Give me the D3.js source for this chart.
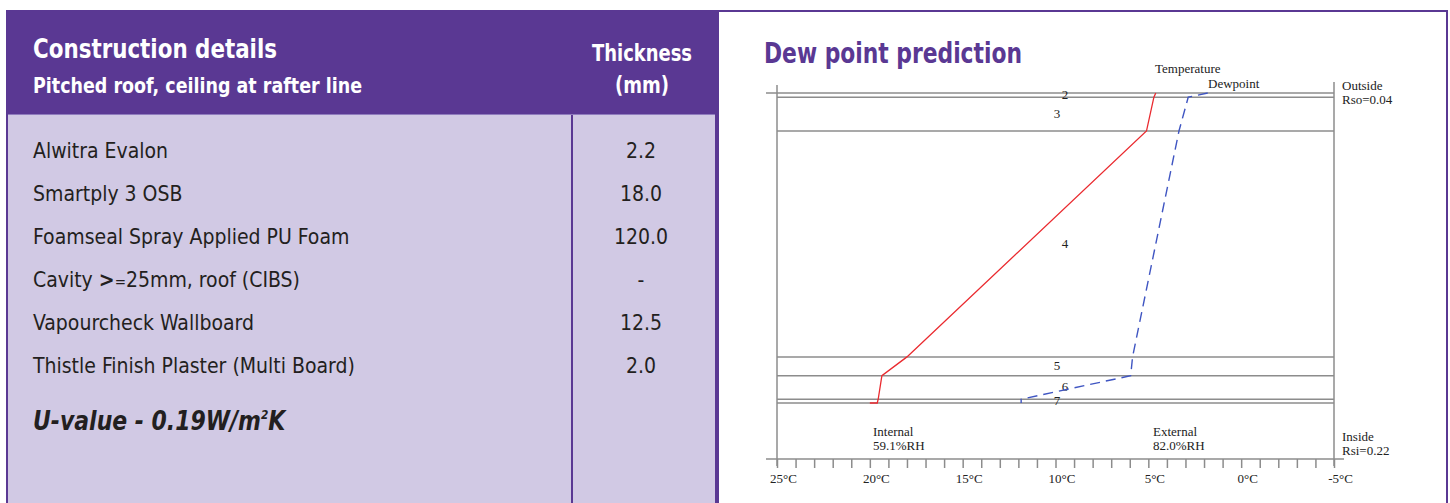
<!DOCTYPE html>
<html>
<head>
<meta charset="utf-8">
<script src="https://cdn.jsdelivr.net/npm/d3@7/dist/d3.min.js"></script>
<style>
body { margin: 0; background: #fff; }
svg text { font-family: "Liberation Sans Narrow", "DejaVu Sans Condensed", sans-serif; }
.plot text { font-family: "Liberation Serif", "Times New Roman", serif; font-size: 13px; fill: #222; }
</style>
</head>
<body>
<div id="chart"></div>
<script>
// Table data
var materials = ["Alwitra Evalon", "Smartply 3 OSB", "Foamseal Spray Applied PU Foam",
    "Cavity >=25mm, roof (CIBS)", "Vapourcheck Wallboard", "Thistle Finish Plaster (Multi Board)"];
var thicknessText = ["2.2", "18.0", "120.0", "-", "12.5", "2.0"];

// Dew point chart data
var layerIds = [2, 3, 4, 5, 6, 7];
var layerDepth = [2.2, 18, 120, 10, 12.5, 2];   // drawn thickness in mm
var tempDepth = [0, 2.2, 20.2, 140.2, 150.2, 162.7, 164.7, 164.7];
var tempValues = [4.6, 4.7, 5.1, 18.0, 19.35, 19.55, 19.6, 20.0];
var dewDepth = [0, 2.2, 20.2, 140.2, 150.2, 162.7, 164.7];
var dewValues = [1.8, 2.85, 3.35, 5.85, 5.95, 11.85, 11.85];
var tickLabels = [25, 20, 15, 10, 5, 0, -5];

var purple = "#5a3893";
var lavender = "#d1c9e4";

var svg = d3.select("#chart")
    .append("svg")
    .attr("width", 1450)
    .attr("height", 503);

// squeeze a heading into the width it has in the print
function fit(sel, w) {
    sel.attr("textLength", w).attr("lengthAdjust", "spacingAndGlyphs");
    return sel;
}

// ---- Left panel: construction table ----
var left = svg.append("g");

left.append("rect")
    .attr("x", 7).attr("y", 11)
    .attr("width", 709).attr("height", 510)
    .attr("fill", lavender)
    .attr("stroke", purple)
    .attr("stroke-width", 2);

left.append("rect")
    .attr("x", 7).attr("y", 11)
    .attr("width", 709).attr("height", 103)
    .attr("fill", purple);

left.append("line")
    .attr("x1", 8).attr("x2", 715)
    .attr("y1", 114.5).attr("y2", 114.5)
    .attr("stroke", "#8f7bbd")
    .attr("stroke-width", 1);

left.append("line")
    .attr("x1", 572).attr("x2", 572)
    .attr("y1", 115).attr("y2", 503)
    .attr("stroke", purple)
    .attr("stroke-width", 2);

fit(left.append("text")
    .attr("x", 33).attr("y", 58)
    .attr("fill", "#fff")
    .style("font-size", "27px")
    .style("font-weight", "bold")
    .text("Construction details"), 244);

fit(left.append("text")
    .attr("x", 33).attr("y", 93)
    .attr("fill", "#fff")
    .style("font-size", "21px")
    .style("font-weight", "bold")
    .text("Pitched roof, ceiling at rafter line"), 329);

fit(left.append("text")
    .attr("x", 642).attr("y", 61)
    .attr("text-anchor", "middle")
    .attr("fill", "#fff")
    .style("font-size", "23px")
    .style("font-weight", "bold")
    .text("Thickness"), 100);

fit(left.append("text")
    .attr("x", 642).attr("y", 93)
    .attr("text-anchor", "middle")
    .attr("fill", "#fff")
    .style("font-size", "23px")
    .style("font-weight", "bold")
    .text("(mm)"), 54);

var rowY = d3.scaleBand()
    .domain(d3.range(materials.length))
    .range([129, 388]);

var rows = left.selectAll(".row")
    .data(materials)
    .enter()
    .append("g")
    .attr("class", "row")
    .attr("transform", (d, i) => `translate(0, ${rowY(i) + rowY.bandwidth() / 2 + 7})`);

rows.append("text")
    .attr("x", 33)
    .attr("fill", "#231f20")
    .style("font-size", "21px")
    .each(function(d) {
        var t = d3.select(this);
        if (d.indexOf(">=") >= 0) {
            var parts = d.split(">=");
            t.append("tspan").text(parts[0]);
            t.append("tspan").style("font-weight", "bold").text(">");
            t.append("tspan").style("font-size", "15px").text("=");
            t.append("tspan").text(parts[1]);
        } else {
            t.text(d);
        }
    });

rows.append("text")
    .attr("x", 641)
    .attr("text-anchor", "middle")
    .attr("fill", "#231f20")
    .style("font-size", "21px")
    .text((d, i) => thicknessText[i]);

// U-value line, narrowed a little to match the condensed print face
var uText = left.append("g")
    .attr("transform", "translate(33, 430) scale(0.905, 1)")
    .append("text")
    .attr("fill", "#231f20")
    .style("font-size", "27px")
    .style("font-weight", "bold")
    .style("font-style", "italic");
uText.append("tspan").text("U-value - 0.19W/m");
uText.append("tspan").attr("dy", -11).style("font-size", "13px").text("2");
uText.append("tspan").attr("dy", 11).text("K");

// ---- Right panel: dew point prediction ----
svg.append("rect")
    .attr("x", 718).attr("y", 11)
    .attr("width", 729).attr("height", 510)
    .attr("fill", "#fff")
    .attr("stroke", purple)
    .attr("stroke-width", 2);

fit(svg.append("text")
    .attr("x", 764).attr("y", 63)
    .attr("fill", purple)
    .style("font-size", "29px")
    .style("font-weight", "bold")
    .text("Dew point prediction"), 258);

var plot = svg.append("g").attr("class", "plot");

var xScale = d3.scaleLinear()
    .domain([25, -5])
    .range([777, 1334]);

var totalDepth = d3.sum(layerDepth);
var yScale = d3.scaleLinear()
    .domain([0, totalDepth])
    .range([93, 403]);

var bounds = [0];
layerDepth.forEach(function(d) { bounds.push(bounds[bounds.length - 1] + d); });

var lineColor = "#8c8c8c";

// layer boundaries
plot.selectAll(".bound")
    .data(bounds)
    .enter()
    .append("line")
    .attr("class", "bound")
    .attr("x1", (d, i) => i === 0 ? xScale(25) - 11 : xScale(25))
    .attr("x2", xScale(-5))
    .attr("y1", d => yScale(d))
    .attr("y2", d => yScale(d))
    .attr("stroke", lineColor)
    .attr("stroke-width", 1.5);

// side lines
plot.append("line")
    .attr("x1", xScale(25)).attr("x2", xScale(25))
    .attr("y1", 85).attr("y2", 466)
    .attr("stroke", lineColor).attr("stroke-width", 1.5);
plot.append("line")
    .attr("x1", xScale(-5)).attr("x2", xScale(-5))
    .attr("y1", 82).attr("y2", 466)
    .attr("stroke", lineColor).attr("stroke-width", 1.5);

// layer numbers
plot.selectAll(".layer-num")
    .data(layerIds)
    .enter()
    .append("text")
    .attr("class", "layer-num")
    .attr("x", (d, i) => i % 2 === 0 ? 1065 : 1057)
    .attr("y", (d, i) => yScale(bounds[i] + layerDepth[i] / 2) + 4)
    .attr("text-anchor", "middle")
    .text(d => d);

// x axis
var bottomAxis = d3.axisBottom(xScale)
    .tickValues(d3.range(25, -6, -1))
    .tickSize(9)
    .tickPadding(6)
    .tickFormat(d => tickLabels.indexOf(d) >= 0 ? d + "°C" : "");

var xAxis = plot.append("g")
    .attr("transform", "translate(0, 459)")
    .call(bottomAxis);
xAxis.select(".domain").remove();
xAxis.selectAll(".tick line").attr("stroke", lineColor).attr("stroke-width", 1.5);
xAxis.selectAll(".tick text")
    .attr("dx", 6)
    .attr("fill", "#222")
    .style("font-family", "Liberation Serif, serif")
    .style("font-size", "13px");

plot.append("line")
    .attr("x1", xScale(25) - 11).attr("x2", xScale(-5) + 10)
    .attr("y1", 459).attr("y2", 459)
    .attr("stroke", lineColor).attr("stroke-width", 1.5);

// temperature and dewpoint lines
var tempLine = d3.line()
    .x(d => xScale(d[1]))
    .y(d => yScale(d[0]));

plot.append("path")
    .datum(d3.zip(tempDepth, tempValues))
    .attr("d", tempLine)
    .attr("fill", "none")
    .attr("stroke", "#ea2a2f")
    .attr("stroke-width", 1.3);

plot.append("path")
    .datum(d3.zip(dewDepth, dewValues))
    .attr("d", tempLine)
    .attr("fill", "none")
    .attr("stroke", "#3f55c2")
    .attr("stroke-width", 1.4)
    .attr("stroke-dasharray", "10,6");

// labels
plot.append("text").attr("x", 1155).attr("y", 73).text("Temperature");
plot.append("text").attr("x", 1208).attr("y", 88).text("Dewpoint");
plot.append("text").attr("x", 1342).attr("y", 90).text("Outside");
plot.append("text").attr("x", 1342).attr("y", 104).text("Rso=0.04");
plot.append("text").attr("x", 1342).attr("y", 441).text("Inside");
plot.append("text").attr("x", 1342).attr("y", 455).text("Rsi=0.22");
plot.append("text").attr("x", 873).attr("y", 436).text("Internal");
plot.append("text").attr("x", 873).attr("y", 450).text("59.1%RH");
plot.append("text").attr("x", 1153).attr("y", 436).text("External");
plot.append("text").attr("x", 1153).attr("y", 450).text("82.0%RH");
</script>
</body>
</html>
